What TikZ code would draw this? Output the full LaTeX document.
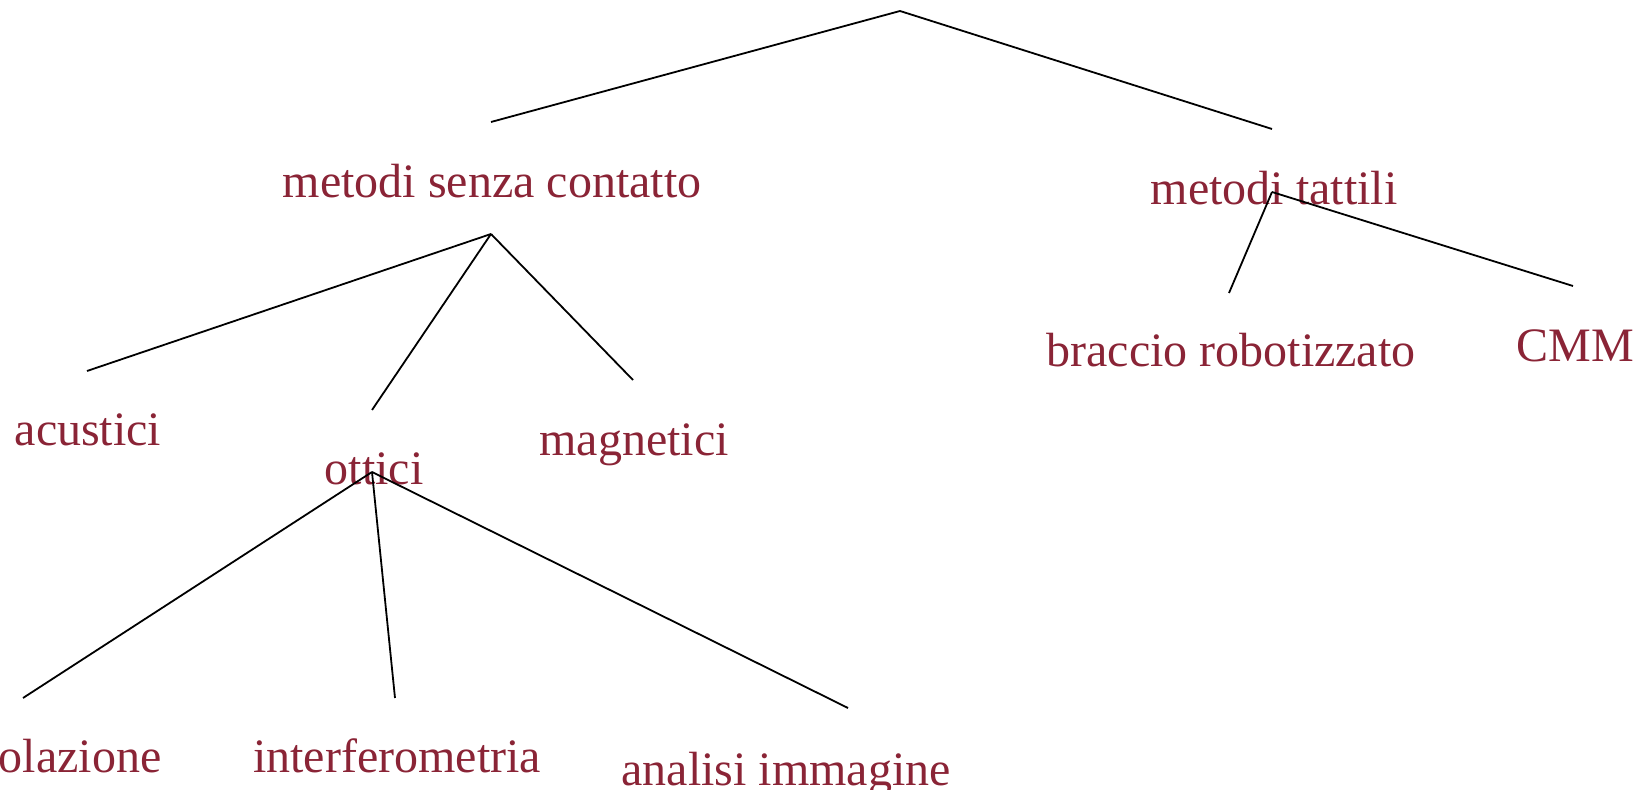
\documentclass[tikz,border=0pt]{standalone}
\usepackage{fontspec}
\setmainfont{Liberation Serif}
\definecolor{labelred}{HTML}{8A2436}
\begin{document}
\begin{tikzpicture}[x=0.5pt,y=-0.5pt,
  lbl/.style={anchor=base,inner sep=0pt,text=labelred,font=\fontsize{24}{28}\selectfont},
  branch/.style={draw=black,line width=0.9pt}]
\useasboundingbox (0,0) rectangle (1645,790);
% labels
\node[lbl] (senza)   at (492,198) {metodi senza contatto};
\node[lbl] (tattili) at (1274,205) {metodi tattili};
\node[lbl] (acu)     at (88,446) {acustici};
\node[lbl] (ott)     at (374,485) {ottici};
\node[lbl] (mag)     at (634,456) {magnetici};
\node[lbl] (tri)     at (24,773) {triangolazione};
\node[lbl] (inter)   at (397,773) {interferometria};
\node[lbl] (anal)    at (786,785) {analisi immagine};
\node[lbl] (brac)    at (1231,367) {braccio robotizzato};
\node[lbl] (cmm)     at (1575,362) {CMM};
% branch points
\coordinate (root) at (900,11);
\coordinate (rootL) at (491,122);
\coordinate (rootR) at (1272,129);
\coordinate (senzaTop) at (491,234);
\coordinate (acuEnd) at (87,371);
\coordinate (ottEnd) at (372,410);
\coordinate (magEnd) at (633,380);
\coordinate (ottTop) at (372,472);
\coordinate (triEnd) at (23,698);
\coordinate (interEnd) at (395,698);
\coordinate (analEnd) at (848,708);
\coordinate (tattTop) at (1272,192);
\coordinate (bracEnd) at (1229,293);
\coordinate (cmmEnd) at (1573,286);
% tree
\draw[branch] (rootL) -- (root) -- (rootR);
\draw[branch] (senzaTop) -- (acuEnd);
\draw[branch] (senzaTop) -- (ottEnd);
\draw[branch] (senzaTop) -- (magEnd);
\draw[branch] (ottTop) -- (triEnd);
\draw[branch] (ottTop) -- (interEnd);
\draw[branch] (ottTop) -- (analEnd);
\draw[branch] (tattTop) -- (bracEnd);
\draw[branch] (tattTop) -- (cmmEnd);
\end{tikzpicture}
\end{document}
